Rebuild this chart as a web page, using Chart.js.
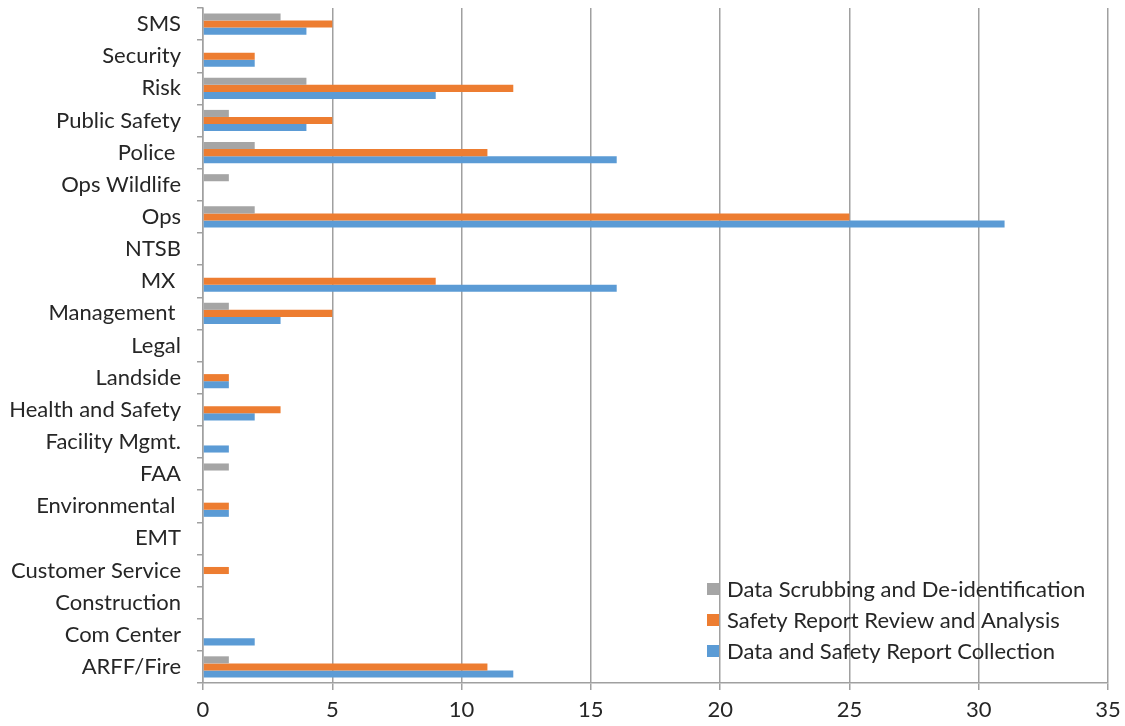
<!DOCTYPE html>
<html>
<head>
<meta charset="utf-8">
<script src="https://cdn.jsdelivr.net/npm/chart.js@4/dist/chart.umd.min.js"></script>
<style>
  html, body { margin: 0; padding: 0; background: #fff; }
  #wrap { width: 1125px; height: 726px; }
</style>
</head>
<body>
<div id="wrap"><canvas id="dept-chart"></canvas></div>
<script>
// departments, listed top to bottom
const departments = [
  "SMS", "Security", "Risk", "Public Safety", "Police ", "Ops Wildlife", "Ops",
  "NTSB", "MX ", "Management ", "Legal", "Landside", "Health and Safety",
  "Facility Mgmt.", "FAA", "Environmental ", "EMT", "Customer Service",
  "Construction", "Com Center", "ARFF/Fire"
];

const scrubbing = [3, 0, 4, 1, 2, 1, 2, 0, 0, 1, 0, 0, 0, 0, 1, 0, 0, 0, 0, 0, 1];
const review = [5, 2, 12, 5, 11, 0, 25, 0, 9, 5, 0, 1, 3, 0, 0, 1, 0, 1, 0, 0, 11];
const collection = [4, 2, 9, 4, 16, 0, 31, 0, 16, 3, 0, 1, 2, 1, 0, 1, 0, 0, 0, 2, 12];

const seriesNames = [
  "Data Scrubbing and De-identification",
  "Safety Report Review and Analysis",
  "Data and Safety Report Collection"
];
const seriesColors = ["#a5a5a5", "#ed7d31", "#5b9bd5"];

const FONT = "Lato, 'Liberation Sans', sans-serif";
const TEXT = "#262626";
const GRID = "#a0a0a0";

// legend drawn inside the plot, lower right
const innerLegend = {
  id: "innerLegend",
  afterDraw(chart) {
    const ctx = chart.ctx;
    const x = 707, y0 = 589, step = 31, box = 12;
    ctx.save();
    ctx.font = "22px " + FONT;
    ctx.textBaseline = "middle";
    chart.data.datasets.forEach((ds, i) => {
      const y = y0 + i * step;
      ctx.fillStyle = ds.backgroundColor;
      ctx.fillRect(x, y - box / 2, box, box);
      ctx.fillStyle = TEXT;
      ctx.fillText(ds.label, x + 20, y + 1);
    });
    ctx.restore();
  }
};

const datasets = [scrubbing, review, collection].map((vals, i) => ({
  label: seriesNames[i],
  data: vals,
  backgroundColor: seriesColors[i],
  borderWidth: 0,
  categoryPercentage: 0.66,
  barPercentage: 1.0
}));

var ctx = document.getElementById("dept-chart").getContext("2d");
var deptChart = new Chart(ctx, {
  type: "bar",
  data: { labels: departments, datasets: datasets },
  options: {
    indexAxis: "y",
    responsive: true,
    maintainAspectRatio: false,
    animation: false,
    layout: { padding: { top: 8, right: 17, bottom: 0, left: 0 } },
    plugins: {
      legend: { display: false },
      tooltip: { enabled: false }
    },
    scales: {
      x: {
        min: 0,
        max: 35,
        ticks: { stepSize: 5, color: TEXT, font: { family: FONT, size: 22 }, padding: 7 },
        grid: { color: GRID, lineWidth: 1.5, tickLength: 7 },
        border: { color: GRID, width: 1.5 },
        afterFit: (s) => { s.height = 43; s.paddingLeft = 0; s.paddingRight = 0; }
      },
      y: {
        ticks: { color: TEXT, font: { family: FONT, size: 22 }, padding: 16 },
        grid: { drawOnChartArea: false, color: GRID, lineWidth: 1.5, tickLength: 6 },
        border: { color: GRID, width: 1.5 },
        afterFit: (s) => { s.width = 203; s.paddingTop = 0; s.paddingBottom = 0; }
      }
    }
  },
  plugins: [innerLegend]
});
</script>
</body>
</html>
